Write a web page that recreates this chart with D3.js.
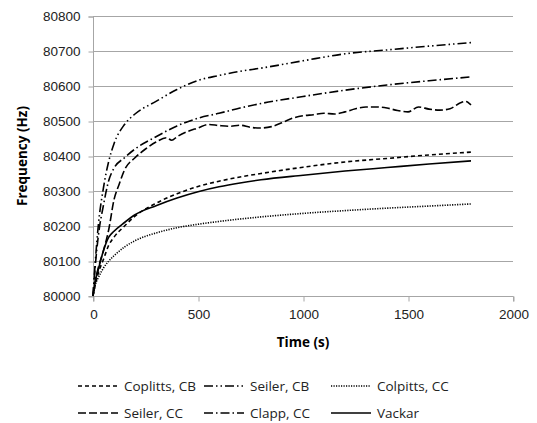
<!DOCTYPE html>
<html lang="en">
<head>
    <meta charset="UTF-8">
    <title>Frequency vs Time</title>
    <script src="https://d3js.org/d3.v7.min.js"></script>
    <style>
        body { margin: 0; background: #fff; }
        svg { font-family: "Open Sans", "Liberation Sans", sans-serif; }
        .grid line { stroke: #a6a6a6; stroke-width: 1; }
        .axis path, .axis line { stroke: #a6a6a6; }
        .axis text { font-size: 13.5px; fill: #222; }
        .series { fill: none; stroke: #000; stroke-width: 1.6; }
        .legend text { font-size: 13.5px; fill: #222; }
        .title { font-size: 13.5px; font-weight: bold; fill: #000; }
    </style>
</head>
<body>
    <svg width="537" height="423"></svg>
    <script>
        // Time samples (s) for the smooth curves
        const times = [0, 10, 25, 50, 75, 100, 150, 200, 300, 400, 500, 600, 700, 800, 1000, 1200, 1400, 1600, 1800];

        const coplittsCB = [80000, 80030, 80065, 80105, 80145, 80168, 80200, 80228, 80265, 80292, 80313, 80328, 80340, 80350, 80368, 80383, 80393, 80403, 80411];
        const seilerCB   = [80000, 80090, 80200, 80310, 80385, 80435, 80490, 80520, 80556, 80590, 80616, 80630, 80642, 80651, 80672, 80692, 80703, 80714, 80724];
        const colpittsCC = [80000, 80030, 80052, 80080, 80100, 80115, 80140, 80158, 80180, 80195, 80205, 80213, 80220, 80226, 80236, 80244, 80251, 80257, 80263];
        const clappCC    = [80000, 80080, 80170, 80260, 80330, 80365, 80395, 80420, 80455, 80486, 80508, 80522, 80537, 80550, 80570, 80588, 80603, 80615, 80626];
        const vackar     = [80000, 80040, 80075, 80130, 80168, 80185, 80210, 80232, 80258, 80280, 80298, 80312, 80323, 80332, 80345, 80357, 80367, 80377, 80386];

        // Seiler, CC is noisy, so it has its own time samples
        const seilerCCTimes = [0, 10, 25, 50, 75, 100, 125, 150, 200, 250, 300, 350, 375, 400, 450, 500, 550, 600, 650, 700, 750, 800, 850, 900, 950, 1000, 1050, 1100, 1150, 1200, 1250, 1300, 1350, 1400, 1450, 1500, 1550, 1600, 1650, 1700, 1750, 1775, 1800];
        const seilerCC = [80000, 80040, 80080, 80130, 80190, 80275, 80320, 80360, 80395, 80420, 80440, 80452, 80445, 80455, 80470, 80480, 80490, 80487, 80485, 80488, 80482, 80480, 80484, 80495, 80508, 80515, 80518, 80522, 80520, 80526, 80535, 80540, 80540, 80537, 80530, 80526, 80540, 80534, 80531, 80535, 80552, 80556, 80546];

        const yTicks = [80000, 80100, 80200, 80300, 80400, 80500, 80600, 80700, 80800];
        const xTicks = [0, 500, 1000, 1500, 2000];

        const series = [
            { name: "Coplitts, CB", t: times, v: coplittsCB, dash: "4,3" },
            { name: "Seiler, CB", t: times, v: seilerCB, dash: "9,3,1.5,3,1.5,3" },
            { name: "Colpitts, CC", t: times, v: colpittsCC, dash: "1.2,1.3" },
            { name: "Seiler, CC", t: seilerCCTimes, v: seilerCC, dash: "8,3" },
            { name: "Clapp, CC", t: times, v: clappCC, dash: "9,3,1.5,3" },
            { name: "Vackar", t: times, v: vackar, dash: null }
        ];

        const svg = d3.select("svg");
        const margin = { top: 16, right: 24, bottom: 127, left: 93 };
        const width = +svg.attr("width") - margin.left - margin.right;
        const height = +svg.attr("height") - margin.top - margin.bottom;

        const g = svg.append("g")
            .attr("transform", `translate(${margin.left},${margin.top})`);

        const x = d3.scaleLinear().domain([0, 2000]).range([0, width]);
        const y = d3.scaleLinear().domain([80000, 80800]).range([height, 0]);

        // Horizontal gridlines
        g.append("g")
            .attr("class", "grid")
            .selectAll("line")
            .data(yTicks.slice(1))
            .join("line")
            .attr("x1", 0)
            .attr("x2", width)
            .attr("y1", d => y(d) + 0.5)
            .attr("y2", d => y(d) + 0.5);

        // Y axis
        const yAxis = g.append("g")
            .attr("class", "axis")
            .attr("transform", "translate(0.5,0.5)")
            .call(d3.axisLeft(y).tickValues(yTicks).tickFormat(d3.format("d")).tickSize(5).tickPadding(8));
        yAxis.select(".domain").attr("d", `M-5,0.5H0V${height}H-5`);

        // X axis
        const xAxis = g.append("g")
            .attr("class", "axis")
            .attr("transform", `translate(0.5,${height + 0.5})`)
            .call(d3.axisBottom(x).tickValues(xTicks).tickFormat(d3.format("d")).tickSize(5).tickPadding(8));
        xAxis.select(".domain").attr("d", `M0,5V0H${width}V5`);

        // Axis titles
        g.append("text")
            .attr("class", "title")
            .attr("x", width / 2)
            .attr("y", height + 51)
            .attr("text-anchor", "middle")
            .text("Time (s)");

        g.append("text")
            .attr("class", "title")
            .attr("transform", "rotate(-90)")
            .attr("x", -height / 2)
            .attr("y", -66)
            .attr("text-anchor", "middle")
            .text("Frequency (Hz)");

        // Lines
        const line = d3.line()
            .x(d => x(d[0]))
            .y(d => y(d[1]))
            .curve(d3.curveMonotoneX);

        series.forEach(s => {
            g.append("path")
                .datum(s.t.map((t, i) => [t, s.v[i]]))
                .attr("class", "series")
                .attr("stroke-dasharray", s.dash)
                .attr("d", line);
        });

        // Legend, three per row
        const legend = svg.append("g").attr("class", "legend");
        const colX = [78, 204, 331];
        const rowY = [386, 413];
        series.forEach((s, i) => {
            const lx = colX[i % 3];
            const ly = rowY[Math.floor(i / 3)];
            legend.append("line")
                .attr("x1", lx)
                .attr("x2", lx + 40)
                .attr("y1", ly)
                .attr("y2", ly)
                .attr("stroke", "#000")
                .attr("stroke-width", 1.6)
                .attr("stroke-dasharray", s.dash);
            legend.append("text")
                .attr("x", lx + 46)
                .attr("y", ly)
                .attr("dy", "0.35em")
                .text(s.name);
        });
    </script>
</body>
</html>
